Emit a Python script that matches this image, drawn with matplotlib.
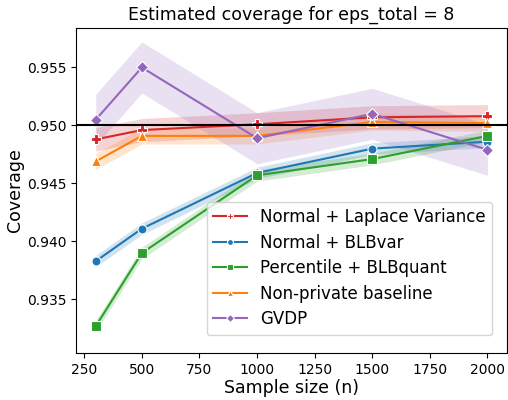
import numpy as np
import matplotlib
matplotlib.use("Agg")
import matplotlib.pyplot as plt

n = [300, 500, 1000, 1500, 2000]

labels = ["Normal + Laplace Variance", "Normal + BLBvar", "Percentile + BLBquant",
          "Non-private baseline", "GVDP"]
coverage = [
    [0.9488, 0.9496, 0.9501, 0.9507, 0.9508],   # Normal + Laplace Variance
    [0.9383, 0.9411, 0.9459, 0.9480, 0.9486],   # Normal + BLBvar
    [0.9327, 0.9390, 0.9457, 0.9471, 0.9491],   # Percentile + BLBquant
    [0.9469, 0.9491, 0.9491, 0.9503, 0.9502],   # Non-private baseline
    [0.9505, 0.9550, 0.9489, 0.9510, 0.9479],   # GVDP
]
# half-width of the shaded interval
halfwidth = [
    [0.0010, 0.0010, 0.0010, 0.0010, 0.0010],
    [0.0005, 0.0005, 0.0005, 0.0005, 0.0005],
    [0.0005, 0.0005, 0.0005, 0.0005, 0.0005],
    [0.0007, 0.0007, 0.0007, 0.0007, 0.0007],
    [0.0022, 0.0022, 0.0022, 0.0022, 0.0022],
]
colors = ["tab:red", "tab:blue", "tab:green", "tab:orange", "tab:purple"]
markers = ["P", "o", "s", "^", "D"]

fig, ax = plt.subplots(figsize=(5.08, 4.0), dpi=100)
fig.subplots_adjust(left=0.150, right=0.998, top=0.93, bottom=0.118)

for lab, y, h, c, m in zip(labels, coverage, halfwidth, colors, markers):
    y, h = np.array(y), np.array(h)
    ax.fill_between(n, y - h, y + h, color=c, alpha=0.2, linewidth=0)
    ax.plot(n, y, color=c, marker=m, markersize=6.5, markeredgecolor="white",
            markeredgewidth=0.8, linewidth=1.5, label=lab)

ax.axhline(0.95, color="black", linewidth=1.5)
ax.set_ylim(0.9304, 0.9584)
ax.set_yticks([0.935, 0.940, 0.945, 0.950, 0.955])
ax.set_xticks([250, 500, 750, 1000, 1250, 1500, 1750, 2000])
ax.set_title("Estimated coverage for eps_total = 8", fontsize=12.5)
ax.set_xlabel("Sample size (n)", fontsize=12.5, labelpad=2)
ax.set_ylabel("Coverage", fontsize=12.5, labelpad=2)
ax.legend(fontsize=12, loc="lower right", bbox_to_anchor=(0.966, 0.055),
          borderaxespad=0, markerscale=0.65, labelspacing=0.45)
fig.savefig("out.png", dpi=100)
